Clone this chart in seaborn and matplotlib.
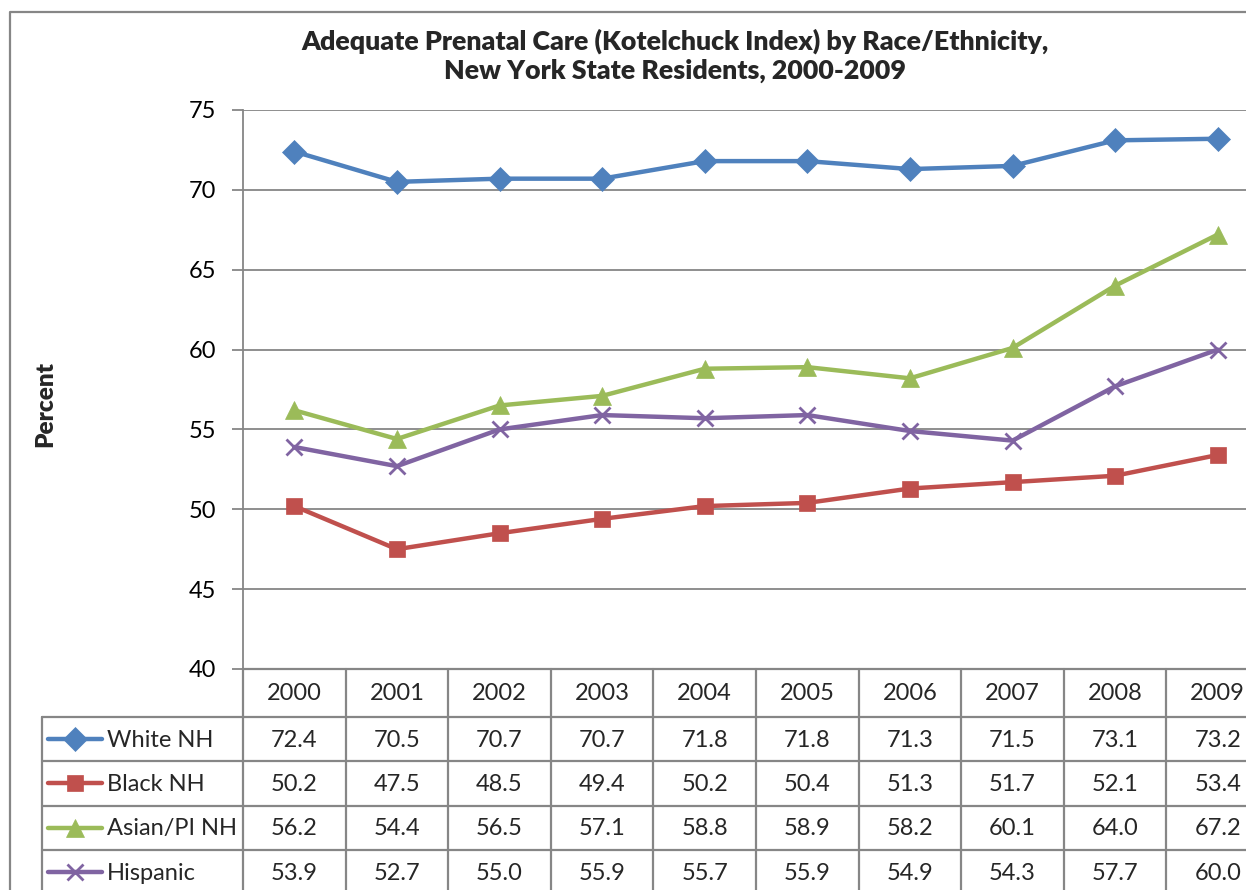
import numpy as np
import pandas as pd
import matplotlib
matplotlib.use("Agg")
import matplotlib.pyplot as plt
from matplotlib.lines import Line2D
import seaborn as sns

# --- Datos ---
years = [2000, 2001, 2002, 2003, 2004, 2005, 2006, 2007, 2008, 2009]
white_nh = [72.4, 70.5, 70.7, 70.7, 71.8, 71.8, 71.3, 71.5, 73.1, 73.2]
black_nh = [50.2, 47.5, 48.5, 49.4, 50.2, 50.4, 51.3, 51.7, 52.1, 53.4]
asian_pi_nh = [56.2, 54.4, 56.5, 57.1, 58.8, 58.9, 58.2, 60.1, 64.0, 67.2]
hispanic = [53.9, 52.7, 55.0, 55.9, 55.7, 55.9, 54.9, 54.3, 57.7, 60.0]

series_names = ["White NH", "Black NH", "Asian/PI NH", "Hispanic"]
series_values = [white_nh, black_nh, asian_pi_nh, hispanic]
colors = ["#4F81BD", "#C0504D", "#9BBB59", "#8064A2"]
markers = ["D", "s", "^", "x"]
msizes = [12, 11.5, 13, 12]

y_ticks = [40, 45, 50, 55, 60, 65, 70, 75]

# --- Estilo ---
sns.set_style("white")
plt.rcParams['font.family'] = ['Lato', 'DejaVu Sans']
grey = "#868686"
fs = 17

W, H = 1246, 890
fig = plt.figure(figsize=(W / 100, H / 100), dpi=100)

# geometria en pixeles
left, top, bottom = 243, 110, 669
col_w = 102.6
right = left + col_w * len(years)
ax = fig.add_axes([left / W, 1 - bottom / H, (right - left) / W, (bottom - top) / H])

pos = np.arange(len(years))
for name, vals, c, m, ms in zip(series_names, series_values, colors, markers, msizes):
    df = pd.DataFrame({"pos": pos, "value": vals})
    sns.lineplot(data=df, x="pos", y="value", ax=ax, color=c, marker=m,
                 markersize=ms, linewidth=3.2, markeredgecolor=c,
                 markeredgewidth=2 if m == "x" else 0.5, legend=False)

ax.set_xlim(-0.5, len(years) - 0.5)
ax.set_ylim(40, 75)
ax.set_yticks(y_ticks)
ax.set_xticks([])
ax.set_xlabel("")
ax.set_ylabel("")
ax.yaxis.grid(True, color=grey, linewidth=1.3)
ax.set_axisbelow(True)
for s in ["top", "right", "bottom"]:
    ax.spines[s].set_visible(False)
ax.spines["left"].set_color(grey)
ax.spines["left"].set_linewidth(1.3)
ax.tick_params(axis="y", left=True, length=8, width=1.3, color=grey,
               labelsize=fs, pad=11, labelcolor="black")

# --- Titulo y etiqueta del eje ---
fig.text(675 / W, 1 - 56 / H,
         "Adequate Prenatal Care (Kotelchuck Index) by Race/Ethnicity,\nNew York State Residents, 2000-2009",
         ha="center", va="center", fontsize=19.3, fontweight="heavy", linespacing=1.25)
fig.text(45 / W, 1 - 404 / H, "Percent", rotation=90, ha="center", va="center",
         fontsize=17.5, fontweight="heavy")

# --- Tabla de datos ---
ov = fig.add_axes([0, 0, 1, 1])
ov.set_xlim(0, W)
ov.set_ylim(H, 0)
ov.axis("off")

tab_left = 42
header_bot = 717
row_h = 44.3
rows_y = [header_bot + row_h * i for i in range(len(series_names) + 1)]
lw = 1.6

# lineas horizontales
ov.plot([left, right], [bottom, bottom], color=grey, lw=lw)
for y in rows_y[:-1]:
    ov.plot([tab_left, right], [y, y], color=grey, lw=lw)
# lineas verticales
for i in range(len(years) + 1):
    x = left + col_w * i
    ov.plot([x, x], [bottom, H + 5], color=grey, lw=lw)
ov.plot([tab_left, tab_left], [header_bot, H + 5], color=grey, lw=lw)

# encabezado de años
for i, yr in enumerate(years):
    ov.text(left + col_w * (i + 0.5), (bottom + header_bot) / 2 + 1, str(yr),
            ha="center", va="center", fontsize=fs)

# filas con leyenda y valores
for r, (name, vals, c, m, ms) in enumerate(zip(series_names, series_values, colors, markers, msizes)):
    yc = rows_y[r] + row_h / 2
    ov.add_line(Line2D([48, 102], [yc, yc], color=c, lw=3.2, solid_capstyle="round"))
    ov.add_line(Line2D([75], [yc], color=c, marker=m, markersize=ms,
                       markeredgecolor=c, markeredgewidth=2 if m == "x" else 0.5))
    ov.text(107, yc + 1, name, ha="left", va="center", fontsize=fs)
    for i, v in enumerate(vals):
        ov.text(left + col_w * (i + 0.5), yc + 1, f"{v:.1f}",
                ha="center", va="center", fontsize=fs)

# borde exterior del grafico
ov.plot([10, 10, W + 5], [H + 5, 12, 12], color=grey, lw=1.6)

plt.savefig("out.png", dpi=100)
